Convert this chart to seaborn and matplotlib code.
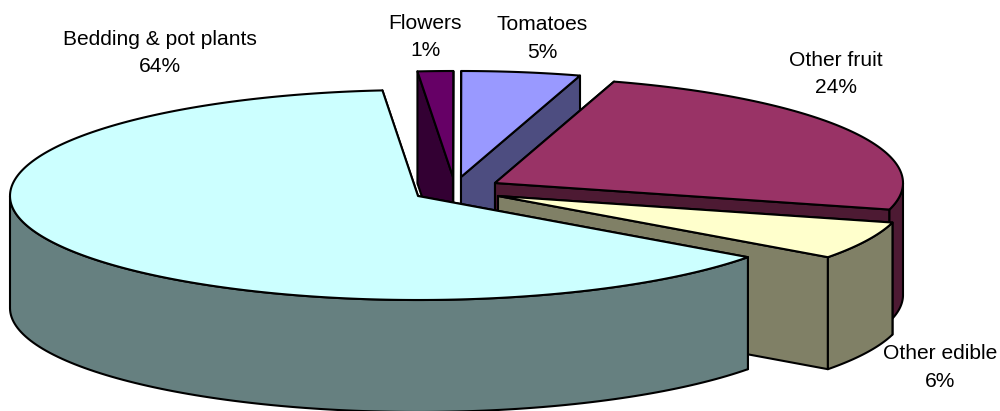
import numpy as np
import matplotlib
matplotlib.use("Agg")
import matplotlib.pyplot as plt
from matplotlib.patches import Polygon
import seaborn as sns

# Share of greenhouse output by crop, percent
crops = ["Bedding & pot plants", "Flowers", "Tomatoes", "Other fruit", "Other edible"]
shares = [63.6, 1.4, 4.7, 24.4, 5.9]

# Face colours of each slice
top_colours = ["#CCFFFF", "#660066", "#9999FF", "#993366", "#FFFFCC"]

# Drawing layout, in figure pixels
hubs = {"Bedding & pot plants": (418, 196), "Flowers": (453, 177), "Tomatoes": (461, 177),
        "Other fruit": (495, 183), "Other edible": (498, 196)}
label_pos = {"Bedding & pot plants": (160, 53), "Flowers": (425, 37), "Tomatoes": (542, 38.5),
             "Other fruit": (836, 74), "Other edible": (940, 367.5)}
RX, RY_FAR, RY_NEAR, DEPTH = 408, 106, 104, 112
START_DEG = 95.0  # clockwise sweep begins with Flowers at this angle
EDGE = dict(edgecolor="black", linewidth=1.5, joinstyle="round")

sns.set_theme(style="white")
plt.rcParams["font.family"] = ["Liberation Sans", "DejaVu Sans"]

fig, ax = plt.subplots(figsize=(10, 4.11), dpi=100)
fig.subplots_adjust(0, 0, 1, 1)
ax.set_xlim(0, 1000)
ax.set_ylim(411, 0)
ax.axis("off")

palette = dict(zip(crops, sns.color_palette(top_colours)))


def rim(hub, t0, t1, drop=0.0, n=120):
    """Points along the rim from angle t0 to t1 (degrees, counter-clockwise positive)."""
    t = np.radians(np.linspace(t0, t1, n))
    s = np.sin(t)
    ry = np.where(s > 0, RY_FAR, RY_NEAR)
    return np.column_stack([hub[0] + RX * np.cos(t), hub[1] - ry * s + drop])


def draw_slice(name, t0, t1):
    """Draw one extruded slice spanning t0 down to t1, sweeping clockwise."""
    hub = hubs[name]
    top = np.array(palette[name])
    side = tuple(top * 0.5)

    # cut faces first, they sit behind the wall and the top
    for t in (t0, t1):
        outer = rim(hub, t, t, n=1)[0]
        face = [hub, outer, (outer[0], outer[1] + DEPTH), (hub[0], hub[1] + DEPTH)]
        ax.add_patch(Polygon(face, closed=True, facecolor=side, **EDGE))

    # outer wall, only where the rim faces the viewer
    ts = np.linspace(t0, t1, 361)
    front = ts[np.sin(np.radians(ts)) <= 0.0]
    if front.size > 1:
        upper = rim(hub, front[0], front[-1])
        lower = rim(hub, front[-1], front[0], drop=DEPTH)
        ax.add_patch(Polygon(np.vstack([upper, lower]), closed=True, facecolor=side, **EDGE))

    # top face
    ax.add_patch(Polygon(np.vstack([[hub], rim(hub, t0, t1, n=240)]), closed=True,
                         facecolor=tuple(top), **EDGE))


# Sweep clockwise from the Flowers slice, Bedding closes the circle
sweep = {}
angle = START_DEG
for name in crops[1:] + crops[:1]:
    span = shares[crops.index(name)] / sum(shares) * 360.0
    sweep[name] = (angle, angle - span)
    angle -= span

# Back-to-front painting order
for name in ["Flowers", "Tomatoes", "Other fruit", "Other edible", "Bedding & pot plants"]:
    draw_slice(name, *sweep[name])

for name, value in zip(crops, shares):
    x, y = label_pos[name]
    ax.text(x, y, f"{name}\n{value / sum(shares) * 100:.0f}%", ha="center", va="center",
            fontsize=15.1, color="black", linespacing=1.55)

fig.savefig("out.png", dpi=100)
